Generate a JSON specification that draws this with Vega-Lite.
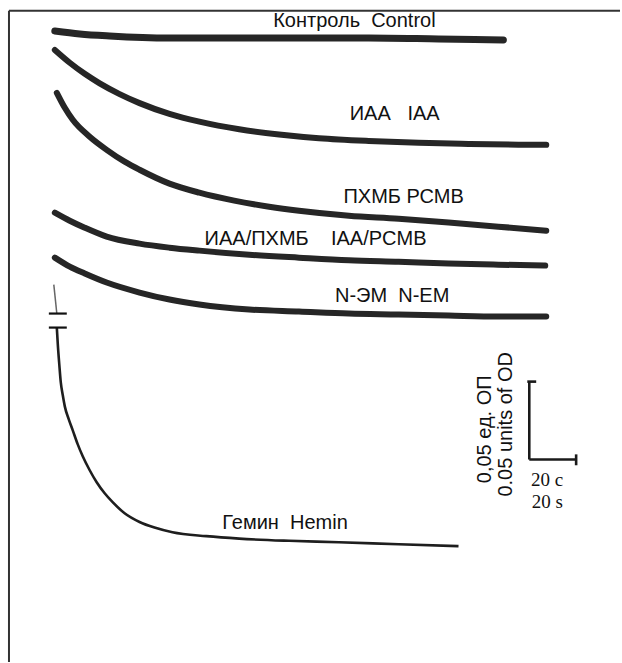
{
  "$schema": "https://vega.github.io/schema/vega-lite/v6.json",
  "width": 622,
  "height": 663,
  "autosize": {"type": "fit", "contains": "padding"},
  "padding": 0,
  "background": "white",
  "config": {"view": {"stroke": null}},
  "datasets": {
    "traces": [
      {"series": "Control", "t": 0, "od": 405.1},
      {"series": "Control", "t": 10.64, "od": 403.2},
      {"series": "Control", "t": 23.4, "od": 401.9},
      {"series": "Control", "t": 48.94, "od": 400.6},
      {"series": "Control", "t": 74.47, "od": 400.6},
      {"series": "Control", "t": 104.26, "od": 400.6},
      {"series": "Control", "t": 134.04, "od": 400.6},
      {"series": "Control", "t": 163.83, "od": 400.0},
      {"series": "Control", "t": 191.49, "od": 399.4},
      {"series": "IAA", "t": 0, "od": 392.9},
      {"series": "IAA", "t": 6.38, "od": 384.7},
      {"series": "IAA", "t": 12.77, "od": 377.6},
      {"series": "IAA", "t": 19.15, "od": 371.5},
      {"series": "IAA", "t": 27.66, "od": 364.6},
      {"series": "IAA", "t": 36.17, "od": 358.8},
      {"series": "IAA", "t": 48.94, "od": 351.9},
      {"series": "IAA", "t": 61.7, "od": 346.9},
      {"series": "IAA", "t": 78.72, "od": 342.0},
      {"series": "IAA", "t": 95.74, "od": 338.7},
      {"series": "IAA", "t": 112.77, "od": 336.3},
      {"series": "IAA", "t": 134.04, "od": 334.5},
      {"series": "IAA", "t": 155.32, "od": 333.3},
      {"series": "IAA", "t": 176.6, "od": 332.6},
      {"series": "IAA", "t": 197.87, "od": 332.1},
      {"series": "IAA", "t": 209.79, "od": 332.0},
      {"series": "PCMB", "t": 0.85, "od": 365.4},
      {"series": "PCMB", "t": 4.26, "od": 355.8},
      {"series": "PCMB", "t": 7.66, "od": 348.1},
      {"series": "PCMB", "t": 14.89, "od": 337.2},
      {"series": "PCMB", "t": 22.13, "od": 328.8},
      {"series": "PCMB", "t": 29.79, "od": 321.2},
      {"series": "PCMB", "t": 36.17, "od": 316.0},
      {"series": "PCMB", "t": 48.94, "od": 307.1},
      {"series": "PCMB", "t": 61.7, "od": 301.3},
      {"series": "PCMB", "t": 76.6, "od": 296.2},
      {"series": "PCMB", "t": 91.49, "od": 292.3},
      {"series": "PCMB", "t": 104.26, "od": 289.7},
      {"series": "PCMB", "t": 125.53, "od": 286.5},
      {"series": "PCMB", "t": 146.81, "od": 284.6},
      {"series": "PCMB", "t": 168.09, "od": 282.1},
      {"series": "PCMB", "t": 189.36, "od": 279.5},
      {"series": "PCMB", "t": 209.79, "od": 276.9},
      {"series": "IAA/PCMB", "t": 0, "od": 288.5},
      {"series": "IAA/PCMB", "t": 6.38, "od": 283.3},
      {"series": "IAA/PCMB", "t": 12.77, "od": 278.8},
      {"series": "IAA/PCMB", "t": 22.13, "od": 273.1},
      {"series": "IAA/PCMB", "t": 36.17, "od": 268.6},
      {"series": "IAA/PCMB", "t": 48.94, "od": 266.0},
      {"series": "IAA/PCMB", "t": 61.7, "od": 264.1},
      {"series": "IAA/PCMB", "t": 82.98, "od": 261.5},
      {"series": "IAA/PCMB", "t": 104.26, "od": 259.6},
      {"series": "IAA/PCMB", "t": 125.53, "od": 257.9},
      {"series": "IAA/PCMB", "t": 146.81, "od": 256.9},
      {"series": "IAA/PCMB", "t": 168.09, "od": 255.8},
      {"series": "IAA/PCMB", "t": 189.36, "od": 255.1},
      {"series": "IAA/PCMB", "t": 209.36, "od": 254.5},
      {"series": "N-EM", "t": 0, "od": 259.6},
      {"series": "N-EM", "t": 6.38, "od": 253.8},
      {"series": "N-EM", "t": 12.77, "od": 249.4},
      {"series": "N-EM", "t": 22.13, "od": 243.6},
      {"series": "N-EM", "t": 36.17, "od": 237.2},
      {"series": "N-EM", "t": 48.94, "od": 232.7},
      {"series": "N-EM", "t": 61.7, "od": 229.5},
      {"series": "N-EM", "t": 82.98, "od": 226.3},
      {"series": "N-EM", "t": 104.26, "od": 225.0},
      {"series": "N-EM", "t": 125.53, "od": 223.7},
      {"series": "N-EM", "t": 146.81, "od": 223.1},
      {"series": "N-EM", "t": 168.09, "od": 222.4},
      {"series": "N-EM", "t": 189.36, "od": 221.8},
      {"series": "N-EM", "t": 209.79, "od": 221.8},
      {"series": "Hemin-pre", "t": -0.43, "od": 242.3},
      {"series": "Hemin-pre", "t": 0.85, "od": 223.7},
      {"series": "Hemin", "t": 0.85, "od": 214.7},
      {"series": "Hemin", "t": 1.28, "od": 203.8},
      {"series": "Hemin", "t": 1.91, "od": 191.0},
      {"series": "Hemin", "t": 2.55, "od": 179.5},
      {"series": "Hemin", "t": 3.4, "od": 171.2},
      {"series": "Hemin", "t": 4.26, "od": 164.1},
      {"series": "Hemin", "t": 5.96, "od": 155.8},
      {"series": "Hemin", "t": 7.66, "od": 148.7},
      {"series": "Hemin", "t": 9.79, "od": 139.7},
      {"series": "Hemin", "t": 11.91, "od": 132.1},
      {"series": "Hemin", "t": 14.89, "od": 123.1},
      {"series": "Hemin", "t": 17.87, "od": 115.4},
      {"series": "Hemin", "t": 21.28, "od": 108.3},
      {"series": "Hemin", "t": 24.68, "od": 102.6},
      {"series": "Hemin", "t": 29.79, "od": 95.5},
      {"series": "Hemin", "t": 36.17, "od": 89.9},
      {"series": "Hemin", "t": 42.55, "od": 86.3},
      {"series": "Hemin", "t": 50.21, "od": 83.3},
      {"series": "Hemin", "t": 64.68, "od": 80.8},
      {"series": "Hemin", "t": 78.72, "od": 79.2},
      {"series": "Hemin", "t": 100.0, "od": 77.8},
      {"series": "Hemin", "t": 121.28, "od": 76.9},
      {"series": "Hemin", "t": 146.81, "od": 75.6},
      {"series": "Hemin", "t": 172.34, "od": 74.4}
    ],
    "labels": [
      {"text": "Контроль\u00a0\u00a0Control", "t": 127.9, "od": 407.5},
      {"text": "ИАА\u00a0\u00a0\u00a0IAA", "t": 145.1, "od": 348.1},
      {"text": "ПХМБ РСМВ", "t": 148.9, "od": 294.9},
      {"text": "ИАА/ПХМБ\u00a0\u00a0\u00a0\u00a0IAA/PCMB", "t": 111.3, "od": 267.9},
      {"text": "N-ЭМ\u00a0\u00a0N-EM", "t": 144.0, "od": 231.4},
      {"text": "Гемин\u00a0\u00a0Hemin", "t": 98.3, "od": 85.3}
    ],
    "rotlabels": [
      {"text": "0,05 ед. ОП", "t": 183.8, "od": 149.4},
      {"text": "0.05 units of OD", "t": 192.8, "od": 152.6}
    ],
    "timelabels": [
      {"text": "20 c", "t": 210.2, "od": 117.0},
      {"text": "20 s", "t": 210.2, "od": 103.0}
    ],
    "bars": [
      {"part": "frame-left", "t": -19.57, "t2": -19.57, "od": 418.1, "od2": 0},
      {"part": "frame-top", "t": -19.57, "t2": 241.28, "od": 418.1, "od2": 418.1},
      {"part": "od-bar", "t": 202.55, "t2": 202.55, "od": 180, "od2": 130},
      {"part": "od-cap", "t": 201.7, "t2": 205.5, "od": 180, "od2": 180},
      {"part": "time-bar", "t": 202.55, "t2": 222.55, "od": 130, "od2": 130},
      {"part": "time-cap", "t": 222.55, "t2": 222.55, "od": 126.3, "od2": 133.3},
      {"part": "break-1", "t": -2.55, "t2": 5.11, "od": 223.7, "od2": 223.7},
      {"part": "break-2", "t": -2.55, "t2": 5.11, "od": 214.7, "od2": 214.7}
    ]
  },
  "layer": [
    {
      "data": {"name": "traces"},
      "transform": [{"filter": {"field": "series", "oneOf": ["IAA", "PCMB", "IAA/PCMB", "N-EM"]}}],
      "mark": {"type": "line", "color": "#262626", "strokeWidth": 6, "strokeJoin": "round", "strokeCap": "round", "interpolate": "monotone"},
      "encoding": {
        "x": {"field": "t", "type": "quantitative", "scale": {"domain": [-23.404, 241.277], "nice": false, "zero": false}, "axis": null},
        "y": {"field": "od", "type": "quantitative", "scale": {"domain": [0, 425], "nice": false, "zero": false}, "axis": null},
        "detail": {"field": "series"}
      }
    },
    {
      "data": {"name": "traces"},
      "transform": [{"filter": {"field": "series", "equal": "Control"}}],
      "mark": {"type": "line", "color": "#262626", "strokeWidth": 7, "strokeJoin": "round", "strokeCap": "round", "interpolate": "monotone"},
      "encoding": {
        "x": {"field": "t", "type": "quantitative"},
        "y": {"field": "od", "type": "quantitative"}
      }
    },
    {
      "data": {"name": "traces"},
      "transform": [{"filter": {"field": "series", "equal": "Hemin"}}],
      "mark": {"type": "line", "color": "#1e1e1e", "strokeWidth": 2.6, "interpolate": "monotone"},
      "encoding": {
        "x": {"field": "t", "type": "quantitative"},
        "y": {"field": "od", "type": "quantitative"}
      }
    },
    {
      "data": {"name": "traces"},
      "transform": [{"filter": {"field": "series", "equal": "Hemin-pre"}}],
      "mark": {"type": "line", "color": "#666666", "strokeWidth": 1.5},
      "encoding": {
        "x": {"field": "t", "type": "quantitative"},
        "y": {"field": "od", "type": "quantitative"}
      }
    },
    {
      "data": {"name": "bars"},
      "transform": [{"filter": {"field": "part", "oneOf": ["frame-left", "frame-top"]}}],
      "mark": {"type": "rule", "color": "#333333", "strokeWidth": 2},
      "encoding": {
        "x": {"field": "t", "type": "quantitative"},
        "x2": {"field": "t2"},
        "y": {"field": "od", "type": "quantitative"},
        "y2": {"field": "od2"}
      }
    },
    {
      "data": {"name": "bars"},
      "transform": [{"filter": {"field": "part", "oneOf": ["od-bar", "od-cap", "time-bar", "time-cap"]}}],
      "mark": {"type": "rule", "color": "#1a1a1a", "strokeWidth": 2.6},
      "encoding": {
        "x": {"field": "t", "type": "quantitative"},
        "x2": {"field": "t2"},
        "y": {"field": "od", "type": "quantitative"},
        "y2": {"field": "od2"}
      }
    },
    {
      "data": {"name": "bars"},
      "transform": [{"filter": {"field": "part", "oneOf": ["break-1", "break-2"]}}],
      "mark": {"type": "rule", "color": "#111111", "strokeWidth": 2.2},
      "encoding": {
        "x": {"field": "t", "type": "quantitative"},
        "x2": {"field": "t2"},
        "y": {"field": "od", "type": "quantitative"},
        "y2": {"field": "od2"}
      }
    },
    {
      "data": {"name": "labels"},
      "mark": {"type": "text", "font": "Liberation Sans", "fontSize": 20, "color": "#111111", "align": "center", "baseline": "alphabetic"},
      "encoding": {
        "x": {"field": "t", "type": "quantitative"},
        "y": {"field": "od", "type": "quantitative"},
        "text": {"field": "text"}
      }
    },
    {
      "data": {"name": "rotlabels"},
      "mark": {"type": "text", "font": "Liberation Sans", "fontSize": 20, "color": "#111111", "align": "center", "baseline": "middle", "angle": 270},
      "encoding": {
        "x": {"field": "t", "type": "quantitative"},
        "y": {"field": "od", "type": "quantitative"},
        "text": {"field": "text"}
      }
    },
    {
      "data": {"name": "timelabels"},
      "mark": {"type": "text", "font": "Liberation Serif", "fontSize": 19, "color": "#111111", "align": "center", "baseline": "middle"},
      "encoding": {
        "x": {"field": "t", "type": "quantitative"},
        "y": {"field": "od", "type": "quantitative"},
        "text": {"field": "text"}
      }
    }
  ]
}
